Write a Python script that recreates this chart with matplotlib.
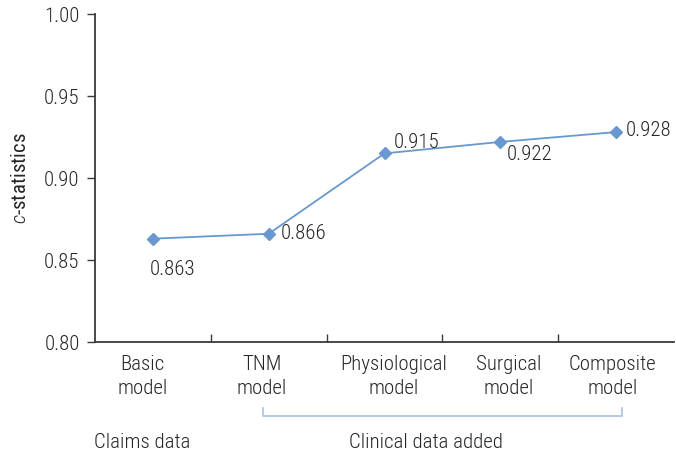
import matplotlib
matplotlib.use("Agg")
import matplotlib.pyplot as plt
import matplotlib.transforms as mtransforms

plt.rcParams['font.family'] = ['Roboto Condensed', 'DejaVu Sans']
plt.rcParams['font.weight'] = 'light'
plt.rcParams['mathtext.fontset'] = 'custom'
plt.rcParams['mathtext.rm'] = 'Roboto Condensed:light'
plt.rcParams['mathtext.it'] = 'Roboto Condensed:italic:light'

categories = ["Basic\nmodel", "TNM\nmodel", "Physiological\nmodel", "Surgical\nmodel", "Composite\nmodel"]
values = [0.863, 0.866, 0.915, 0.922, 0.928]
labels = ["0.863", "0.866", "0.915", "0.922", "0.928"]
yticks = [0.80, 0.85, 0.90, 0.95, 1.00]
ytick_labels = ["0.80", "0.85", "0.90", "0.95", "1.00"]
group_labels = ["Claims data", "Clinical data added"]

W, H = 676, 457
fig = plt.figure(figsize=(W/100, H/100), dpi=100)
left, right = 95/W, 674/W
bottom, top = (H-342)/H, (H-14)/H
ax = fig.add_axes([left, bottom, right-left, top-bottom])

line_color = "#6898cf"
axis_color = "#3a3a3a"
text_color = "#262626"
fs = 15

x = list(range(len(values)))
ax.plot(x, values, color=line_color, lw=1.3, marker="D", ms=6.5, mec=line_color, mfc=line_color, zorder=3)

ax.set_xlim(-0.5, len(values)-0.5)
ax.set_ylim(0.80, 1.00)
ax.set_yticks(yticks)
ax.set_yticklabels(ytick_labels, fontsize=fs, color=text_color)
ax.tick_params(axis='y', direction='out', length=6, width=1.0, color=axis_color, pad=5)

ax.set_xticks([0.5, 1.5, 2.5, 3.5])
ax.set_xticklabels([])
ax.tick_params(axis='x', direction='in', length=6, width=1.0, color=axis_color)

for s in ['top', 'right']:
    ax.spines[s].set_visible(False)
for s in ['left', 'bottom']:
    ax.spines[s].set_color(axis_color)
    ax.spines[s].set_linewidth(1.3)

trans = mtransforms.blended_transform_factory(ax.transData, fig.transFigure)
label_shift = [-0.09, -0.06, 0.08, 0.07, -0.03]
for i, c in enumerate(categories):
    ax.text(i + label_shift[i], (H-355)/H, c, transform=trans, ha='center', va='top',
            fontsize=fs, color=text_color, linespacing=1.3)

offsets = [(-2, -22), (9, 0), (7, 8), (5, -9), (7, 1)]
for i, (v, lab) in enumerate(zip(values, labels)):
    dx, dy = offsets[i]
    ax.annotate(lab, (i, v), xytext=(dx, dy), textcoords='offset points',
                ha='left', va='center', fontsize=fs, color=text_color)

ax.set_ylabel("$c$-statistics", fontsize=fs, color=text_color)
ax.yaxis.set_label_coords(-0.113, 0.5)

yb = (H-416)/H
yb_top = (H-408)/H
x0, x1 = 0.95, 4.05
ax.plot([x0, x0, x1, x1], [yb_top, yb, yb, yb_top], transform=trans, color="#a9c2de",
        lw=1.2, clip_on=False)

ax.text(0 - 0.09, (H-442)/H, group_labels[0], transform=trans, ha='center', va='center',
        fontsize=fs, color=text_color)
ax.text(2.36, (H-442)/H, group_labels[1], transform=trans, ha='center', va='center',
        fontsize=fs, color=text_color)

fig.savefig("out.png", dpi=100)
